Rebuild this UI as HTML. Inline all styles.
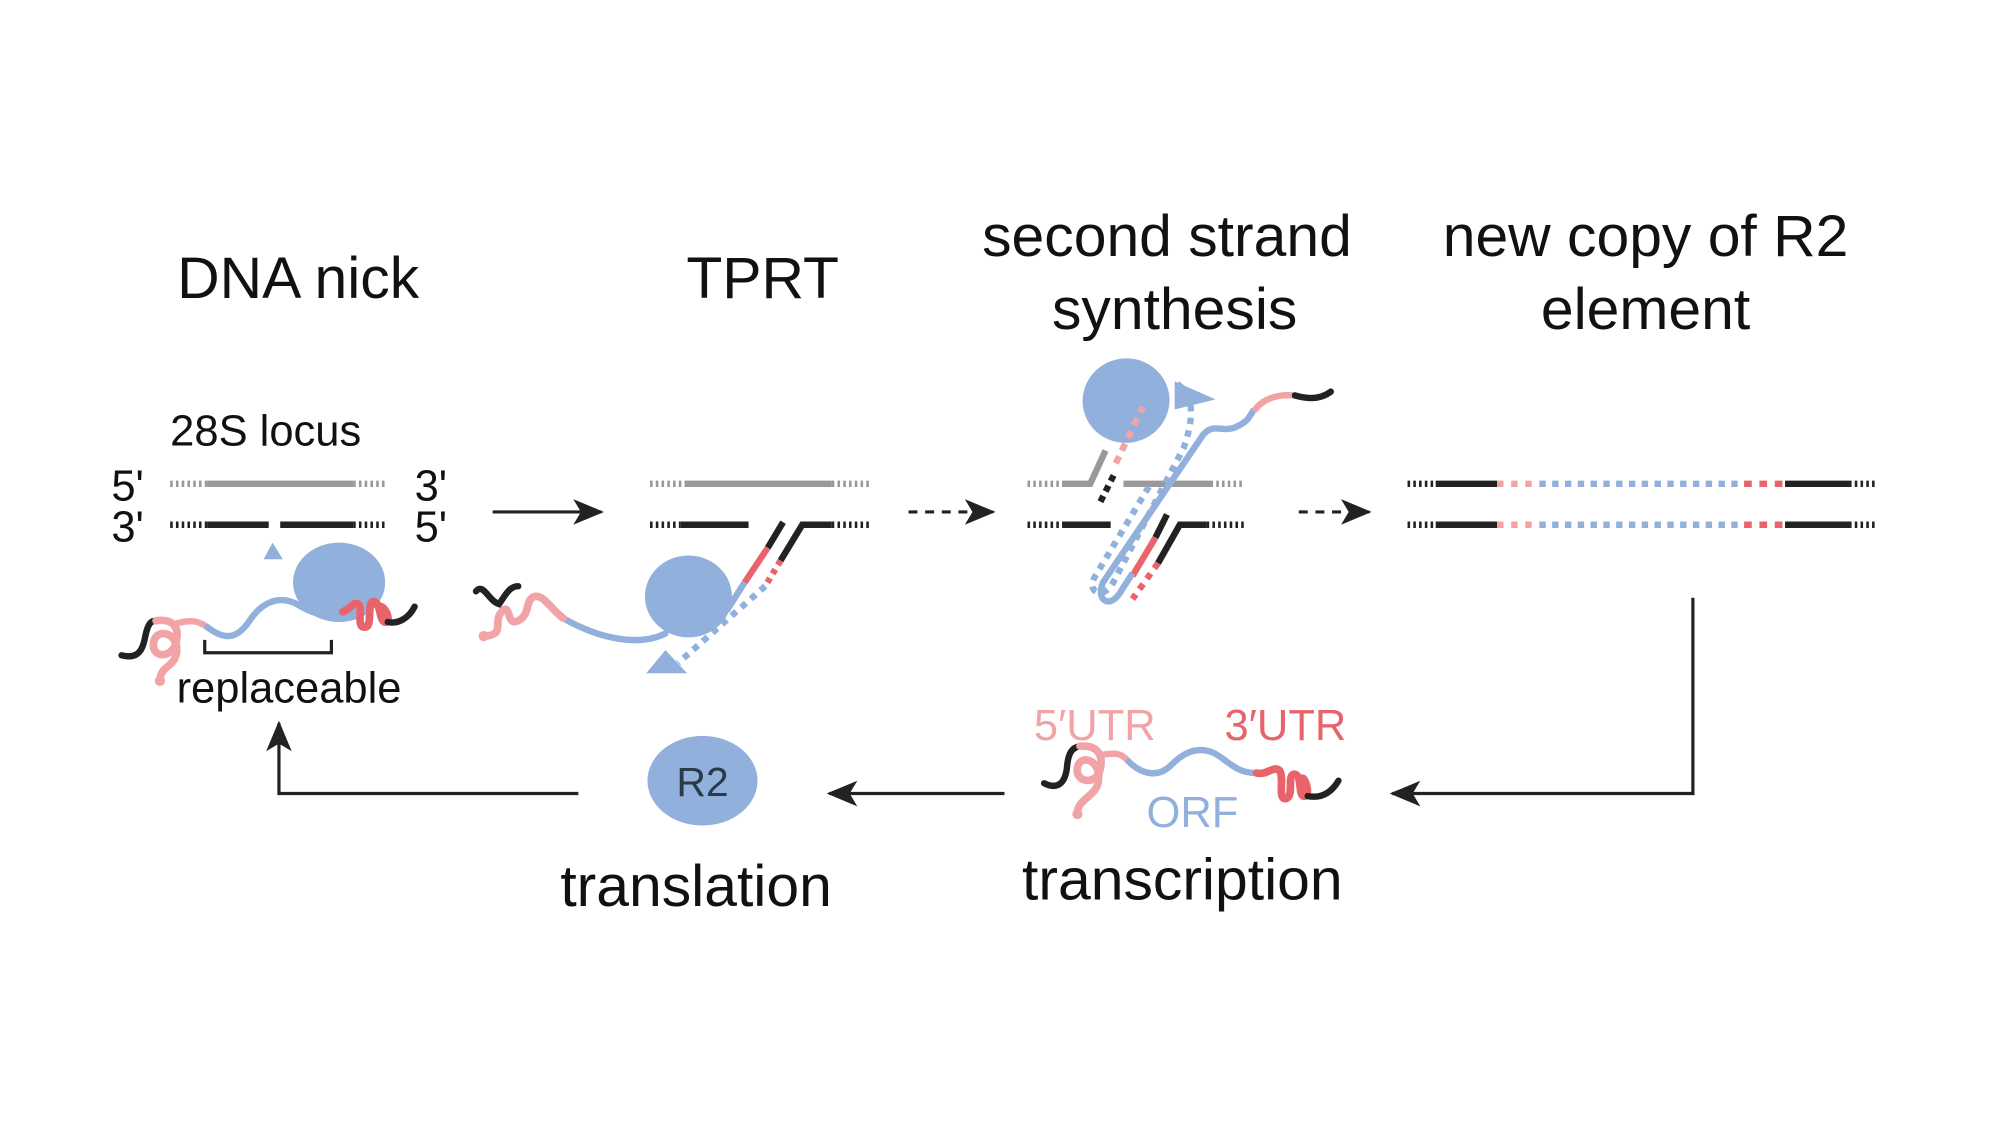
<!DOCTYPE html>
<html><head><meta charset="utf-8"><style>
html,body{margin:0;padding:0;background:#fff;}
svg{display:block;}
text{font-family:"Liberation Sans",Arial,sans-serif;}
</style></head><body>
<svg width="2000" height="1125" viewBox="0 0 1563 879" preserveAspectRatio="none" xmlns="http://www.w3.org/2000/svg">
<defs>
<marker id="ah" viewBox="0 0 24 20" refX="22" refY="10" markerWidth="24" markerHeight="20" markerUnits="userSpaceOnUse" orient="auto">
<path d="M0,0 L24,10 L0,20 L6,10 Z" fill="#222"/></marker>
</defs>
<rect width="1563" height="879" fill="#fff"/>
<g font-size="46" fill="#111" text-anchor="middle">
<text x="233" y="233">DNA nick</text>
<text x="596" y="233">TPRT</text>
<text x="912" y="200">second strand</text>
<text x="918" y="257">synthesis</text>
<text x="1286" y="200">new copy of R2</text>
<text x="1286" y="257">element</text>
<text x="544" y="708">translation</text>
<text x="924" y="703">transcription</text>
</g>
<g font-size="34" fill="#111">
<text x="133" y="348">28S locus</text>
<text x="87" y="391">5'</text>
<text x="87" y="423">3'</text>
<text x="324" y="391">3'</text>
<text x="324" y="423">5'</text>
<text x="138" y="549">replaceable</text>
</g>
<g font-size="34">
<text x="808" y="578" fill="#f2a3a6">5′UTR</text>
<text x="957" y="578" fill="#e8636a">3′UTR</text>
<text x="896" y="646" fill="#92b0dc">ORF</text>
</g>

<!-- Set 1 -->
<g stroke-width="5" fill="none">
<line x1="133" y1="378" x2="162" y2="378" stroke="#999" stroke-dasharray="2,2.5"/>
<line x1="162" y1="378" x2="276" y2="378" stroke="#999"/>
<line x1="276" y1="378" x2="303" y2="378" stroke="#999" stroke-dasharray="2,2.5"/>
<line x1="133" y1="410" x2="162" y2="410" stroke="#222" stroke-dasharray="2,2.5"/>
<line x1="162" y1="410" x2="210" y2="410" stroke="#222"/>
<line x1="219" y1="410" x2="276" y2="410" stroke="#222"/>
<line x1="276" y1="410" x2="303" y2="410" stroke="#222" stroke-dasharray="2,2.5"/>
</g>
<polygon points="213,424 206,437 221,437" fill="#92b0dc"/>
<ellipse cx="265" cy="455" rx="36" ry="31" fill="#92b0dc"/>
<g fill="none" stroke-width="5" stroke-linecap="round">
<path d="M95,512 C110,516 112,505 114,495 C116,487 118,485 122,485" stroke="#222"/>
<path d="M122,485 C135,483 140,490 138,500 C136,515 118,515 120,502 C122,490 140,494 138,510 C136,522 125,520 125,532" stroke="#f2a3a6" stroke-width="6"/>
<circle cx="125" cy="532" r="4" fill="#f2a3a6" stroke="none"/>
<path d="M138,487 C150,484 155,485 162,490" stroke="#f2a3a6"/>
<path d="M162,490 C175,500 185,500 195,485 C205,470 218,465 232,472 C242,478 250,482 262,478" stroke="#92b0dc"/>
<path d="M268,478 C275,475 276,470 280,472 C284,476 278,490 285,490 C292,490 286,470 292,470 C298,470 296,488 302,486 C306,484 300,472 296,474" stroke="#e8636a" stroke-width="6"/>
<path d="M303,486 C312,488 320,482 324,474" stroke="#222"/>
</g>
<path d="M160,500 V510 H259 V500" stroke="#222" stroke-width="2.5" fill="none"/>

<!-- arrow 1 -->
<line x1="385" y1="400" x2="470" y2="400" stroke="#222" stroke-width="2.5" marker-end="url(#ah)"/>

<!-- Set 2 -->
<g stroke-width="5" fill="none">
<line x1="508" y1="378" x2="535" y2="378" stroke="#999" stroke-dasharray="2,2.5"/>
<line x1="535" y1="378" x2="650" y2="378" stroke="#999"/>
<line x1="650" y1="378" x2="679" y2="378" stroke="#999" stroke-dasharray="2,2.5"/>
<line x1="508" y1="410" x2="532" y2="410" stroke="#222" stroke-dasharray="2,2.5"/>
<line x1="532" y1="410" x2="585" y2="410" stroke="#222"/>
<path d="M612,408 L600,428" stroke="#222"/>
<path d="M600,428 L582,455" stroke="#e8636a"/>
<path d="M582,455 L568,477" stroke="#92b0dc"/>
<path d="M650,410 L627,410 L610,438" stroke="#222"/>
<path d="M610,438 L598,458" stroke="#e8636a" stroke-dasharray="4,4"/>
<path d="M598,458 L530,518" stroke="#92b0dc" stroke-dasharray="5,5"/>
<line x1="650" y1="410" x2="679" y2="410" stroke="#222" stroke-dasharray="2,2.5"/>
</g>
<polygon points="520,508 505,526 537,526" fill="#92b0dc"/>
<ellipse cx="538" cy="466" rx="34" ry="32" fill="#92b0dc"/>
<g fill="none" stroke-width="5" stroke-linecap="round">
<path d="M520,495 C500,505 470,500 440,483" stroke="#92b0dc"/>
<path d="M440,483 C430,475 425,465 418,466 C410,468 415,480 405,485 C395,490 400,470 392,478 C385,486 395,495 380,497" stroke="#f2a3a6" stroke-width="6"/>
<circle cx="378" cy="497" r="4" fill="#f2a3a6"/>
<path d="M372,462 C378,455 382,470 390,472 C395,465 398,458 405,458" stroke="#222"/>
</g>

<!-- dashed arrow 2 -->
<line x1="710" y1="400" x2="776" y2="400" stroke="#222" stroke-width="2.5" stroke-dasharray="7,6" marker-end="url(#ah)"/>

<!-- Set 3 -->
<ellipse cx="880" cy="313" rx="34" ry="33" fill="#92b0dc" transform="rotate(-10 880 313)"/>
<polygon points="918,298 918,320 950,312" fill="#92b0dc"/>
<g stroke-width="5" fill="none">
<line x1="803" y1="378" x2="830" y2="378" stroke="#999" stroke-dasharray="2,2.5"/>
<path d="M830,378 H852 L864,352" stroke="#999"/>
<line x1="878" y1="378" x2="946" y2="378" stroke="#999"/>
<line x1="946" y1="378" x2="973" y2="378" stroke="#999" stroke-dasharray="2,2.5"/>
<path d="M860,392 L872,368" stroke="#222" stroke-dasharray="5,4"/>
<path d="M872,362 L893,318" stroke="#f2a3a6" stroke-dasharray="6,5"/>
<line x1="803" y1="410" x2="830" y2="410" stroke="#222" stroke-dasharray="2,2.5"/>
<line x1="830" y1="410" x2="868" y2="410" stroke="#222"/>
<path d="M943,410 H922 L905,440" stroke="#222"/>
<path d="M905,440 L885,468" stroke="#e8636a" stroke-dasharray="5,5"/>
<line x1="943" y1="410" x2="973" y2="410" stroke="#222" stroke-dasharray="2,2.5"/>
<path d="M912,402 L903,420" stroke="#222"/>
<path d="M903,420 L885,450" stroke="#e8636a"/>
<path d="M920,300 C935,310 932,330 925,350 L870,455 C862,470 848,462 856,450 L898,380" stroke="#92b0dc" stroke-dasharray="5,5"/>
<path d="M885,448 L876,462 C868,476 856,470 862,455 L940,340 C948,330 955,338 965,334 C975,330 976,326 980,320" stroke="#92b0dc"/>
<path d="M980,321 C988,310 1000,308 1012,309" stroke="#f2a3a6"/>
<path d="M1012,309 C1022,312 1032,312 1040,306" stroke="#222" stroke-linecap="round"/>
</g>

<!-- dashed arrow 3 -->
<line x1="1015" y1="400" x2="1070" y2="400" stroke="#222" stroke-width="2.5" stroke-dasharray="7,6" marker-end="url(#ah)"/>

<!-- Set 4 -->
<g stroke-width="5" fill="none">
<g id="s4">
<line x1="1100" y1="378" x2="1122" y2="378" stroke="#222" stroke-dasharray="2,2.5"/>
<line x1="1122" y1="378" x2="1170" y2="378" stroke="#222"/>
<line x1="1170" y1="378" x2="1200" y2="378" stroke="#f2a3a6" stroke-dasharray="5,6"/>
<line x1="1203" y1="378" x2="1360" y2="378" stroke="#92b0dc" stroke-dasharray="5,5"/>
<line x1="1363" y1="378" x2="1395" y2="378" stroke="#e8636a" stroke-dasharray="6,6"/>
<line x1="1395" y1="378" x2="1445" y2="378" stroke="#222"/>
<line x1="1445" y1="378" x2="1466" y2="378" stroke="#222" stroke-dasharray="2,2.5"/>
</g>
<use href="#s4" transform="translate(0,32)"/>
</g>

<!-- bottom flow -->
<path d="M1323,467 V620 H1088" stroke="#222" stroke-width="2.5" fill="none" marker-end="url(#ah)"/>
<line x1="785" y1="620" x2="648" y2="620" stroke="#222" stroke-width="2.5" marker-end="url(#ah)"/>
<path d="M452,620 H218 V565" stroke="#222" stroke-width="2.5" fill="none" marker-end="url(#ah)"/>
<ellipse cx="549" cy="610" rx="43" ry="35" fill="#92b0dc"/>
<text x="549" y="622" font-size="32" fill="#2b3a4a" text-anchor="middle">R2</text>

<!-- transcription RNA -->
<g fill="none" stroke-width="5" stroke-linecap="round">
<path d="M816,612 C828,618 833,610 834,598 C835,588 838,584 844,583" stroke="#222"/>
<path d="M844,583 C858,582 862,590 860,600 C858,614 840,612 842,600 C844,588 862,594 858,612 C856,622 842,625 842,635" stroke="#f2a3a6" stroke-width="6"/>
<circle cx="842" cy="636" r="4" fill="#f2a3a6"/>
<path d="M860,590 C872,588 876,588 882,595" stroke="#f2a3a6"/>
<path d="M882,595 C892,605 905,608 915,598 C925,588 935,583 948,588 C960,594 965,604 982,604" stroke="#92b0dc"/>
<path d="M982,604 C990,606 995,598 1000,602 C1004,608 998,625 1005,624 C1012,622 1005,604 1012,605 C1018,606 1014,624 1020,622 C1024,620 1020,608 1018,608" stroke="#e8636a" stroke-width="6"/>
<path d="M1022,622 C1032,624 1040,620 1046,610" stroke="#222"/>
</g>
</svg>
</body></html>
